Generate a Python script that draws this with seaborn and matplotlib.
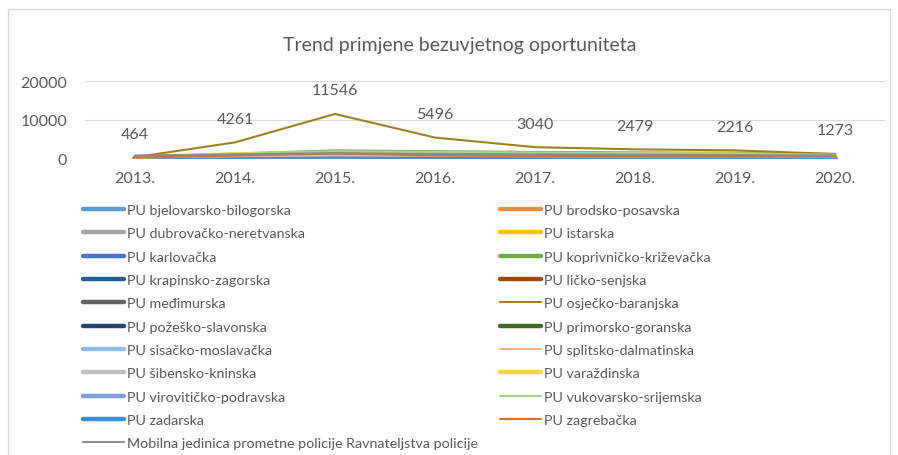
import pandas as pd
import matplotlib
matplotlib.use('Agg')
import matplotlib.pyplot as plt
import seaborn as sns
from matplotlib.lines import Line2D
from matplotlib.patches import Rectangle

# Categories
years = ['2013.', '2014.', '2015.', '2016.', '2017.', '2018.', '2019.', '2020.']

# Series values (read / estimated from the picture)
bjelovarsko = [120, 210, 260, 230, 190, 170, 160, 140]
brodsko = [150, 380, 520, 400, 330, 300, 280, 250]
dubrovacko = [90, 160, 210, 180, 150, 140, 130, 110]
istarska = [300, 900, 1300, 1150, 1000, 950, 900, 700]
karlovacka = [110, 250, 330, 280, 240, 220, 200, 180]
koprivnicko = [200, 1100, 1900, 1700, 1500, 1400, 1300, 1000]
krapinsko = [80, 180, 240, 210, 180, 160, 150, 130]
licko = [60, 140, 190, 170, 150, 140, 120, 100]
medimurska = [90, 200, 270, 240, 200, 180, 170, 150]
osjecko = [464, 4261, 11546, 5496, 3040, 2479, 2216, 1273]
pozesko = [50, 120, 160, 140, 120, 110, 100, 90]
primorsko = [250, 600, 800, 700, 600, 560, 520, 450]
sisacko = [130, 300, 400, 350, 300, 280, 260, 230]
splitsko = [350, 700, 900, 800, 700, 650, 620, 550]
sibensko = [100, 220, 290, 250, 220, 200, 190, 160]
varazdinska = [280, 1200, 1500, 1400, 1300, 1200, 1100, 900]
viroviticko = [70, 150, 200, 180, 160, 150, 140, 120]
vukovarsko = [300, 1300, 2000, 1800, 1600, 1500, 1400, 1100]
zadarska = [400, 600, 700, 500, 450, 420, 400, 380]
zagrebacka = [350, 900, 1400, 900, 800, 750, 700, 650]
mobilna = [900, 1200, 1500, 1300, 1200, 1100, 1000, 900]

series = [
    ('PU bjelovarsko-bilogorska', bjelovarsko, '#5B9BD5', 3.2),
    ('PU brodsko-posavska', brodsko, '#F08C45', 3.2),
    ('PU dubrovačko-neretvanska', dubrovacko, '#A5A5A5', 3.2),
    ('PU istarska', istarska, '#FFC000', 3.2),
    ('PU karlovačka', karlovacka, '#4472C4', 3.2),
    ('PU koprivničko-križevačka', koprivnicko, '#70AD47', 3.2),
    ('PU krapinsko-zagorska', krapinsko, '#255E91', 3.2),
    ('PU ličko-senjska', licko, '#9E480E', 3.2),
    ('PU međimurska', medimurska, '#636363', 3.2),
    ('PU osječko-baranjska', osjecko, '#A08122', 1.5),
    ('PU požeško-slavonska', pozesko, '#264478', 3.2),
    ('PU primorsko-goranska', primorsko, '#43682B', 3.2),
    ('PU sisačko-moslavačka', sisacko, '#8FBCE6', 3.2),
    ('PU splitsko-dalmatinska', splitsko, '#F4B183', 1.5),
    ('PU šibensko-kninska', sibensko, '#C0C0C0', 3.2),
    ('PU varaždinska', varazdinska, '#FFD43B', 3.2),
    ('PU virovitičko-podravska', viroviticko, '#7BA0D8', 3.2),
    ('PU vukovarsko-srijemska', vukovarsko, '#A9D18E', 1.5),
    ('PU zadarska', zadarska, '#3A8FD6', 3.2),
    ('PU zagrebačka', zagrebacka, '#D9702A', 1.5),
    ('Mobilna jedinica prometne policije Ravnateljstva policije', mobilna, '#8C8C8C', 1.5),
]

sns.set_style('white')
plt.rcParams['font.family'] = ['Lato', 'DejaVu Sans']
text_color = '#595959'

fig = plt.figure(figsize=(8.98, 4.56), dpi=100)
ax = fig.add_axes([85 / 898, 1 - 160 / 456, 800 / 898, 78 / 456])

handles = []
for name, vals, color, lw in series:
    df = pd.DataFrame({'year': years, 'value': vals})
    sns.lineplot(data=df, x='year', y='value', color=color, linewidth=lw, ax=ax,
                 sort=False, zorder=3 if lw < 2 else 2)
    handles.append(Line2D([0], [0], color=color, linewidth=lw, solid_capstyle='round'))

# data labels for osječko-baranjska
for i, v in enumerate(osjecko):
    ax.annotate(str(v), (i, v), xytext=(0, 17), textcoords='offset points',
                ha='center', va='center', fontsize=11.5, color=text_color)

ax.set_xlim(-0.5, 7.5)
ax.set_ylim(0, 20000)
ax.set_yticks([0, 10000, 20000])
ax.set_yticklabels(['0', '10000', '20000'])
ax.grid(axis='y', color='#D9D9D9', linewidth=0.8)
ax.set_axisbelow(True)
for s in ax.spines.values():
    s.set_visible(False)
ax.tick_params(axis='both', length=0, labelsize=11.5, labelcolor=text_color)
ax.tick_params(axis='y', pad=13)
ax.tick_params(axis='x', pad=9)
ax.set_xlabel('')
ax.set_ylabel('')

fig.text(460 / 898, 1 - 45 / 456, 'Trend primjene bezuvjetnog oportuniteta',
         ha='center', va='center', fontsize=14, color=text_color)

# legend, laid out row-wise like the original (two columns)
left_idx = list(range(0, 21, 2))
right_idx = list(range(1, 21, 2))
leg_kw = dict(frameon=False, fontsize=10.3, handlelength=2.9, handletextpad=0.15,
              labelspacing=0.79, labelcolor=text_color, borderaxespad=0, borderpad=0)
leg1 = fig.legend([handles[i] for i in left_idx], [series[i][0] for i in left_idx],
                  loc='upper left', bbox_to_anchor=(83 / 898, 1 - 205 / 456), **leg_kw)
leg2 = fig.legend([handles[i] for i in right_idx], [series[i][0] for i in right_idx],
                  loc='upper left', bbox_to_anchor=(500 / 898, 1 - 205 / 456), **leg_kw)

# light frame around the chart
fig.patches.append(Rectangle((8 / 898, -0.05), 882 / 898, 1 - 10 / 456 + 0.05,
                             transform=fig.transFigure, fill=False,
                             edgecolor='#D9D9D9', linewidth=1))

fig.savefig('out.png', dpi=100)
plt.close()
